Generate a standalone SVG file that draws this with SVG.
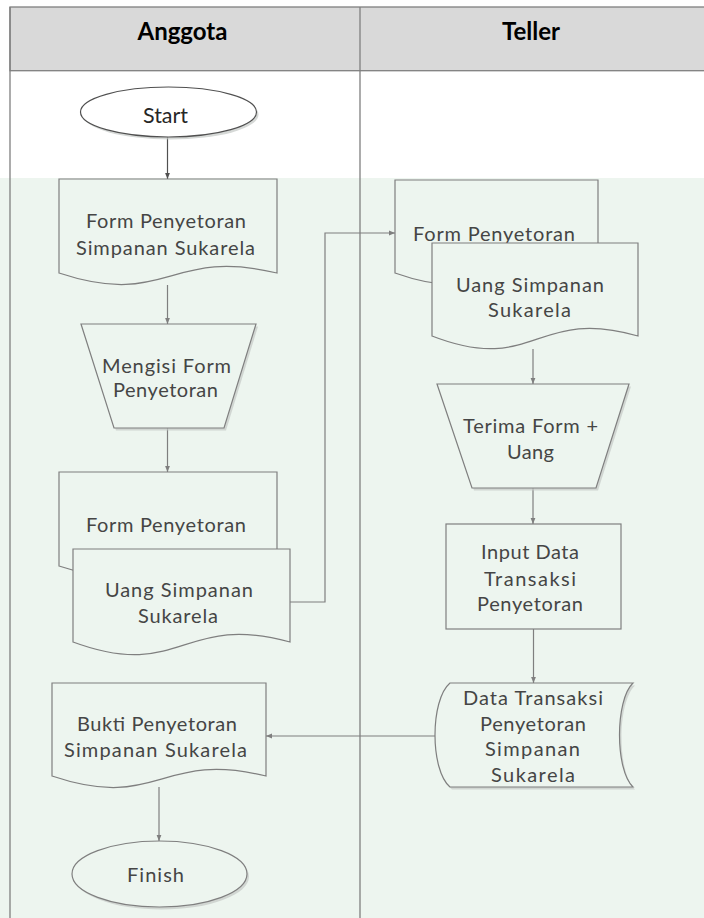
<svg xmlns="http://www.w3.org/2000/svg" width="704" height="918" viewBox="0 0 704 918">
  <style>
    .lane { stroke: #7f7f7f; stroke-width: 1.3; fill: none; }
    .hdr { fill: #d9d9d9; stroke: #7f7f7f; stroke-width: 1.3; }
    .hdrtxt { font-family: Lato, "Liberation Sans", sans-serif; font-weight: bold; font-size: 24px; fill: #000; text-anchor: middle; }
    .shape { fill: #edf5ef; stroke: #7f7f7f; stroke-width: 1.2; }
    .term { fill: #ffffff; stroke: #505050; stroke-width: 1.2; }
    .shadow { fill: #c4c9c6; stroke: none; opacity: 0.7; }
    .txt { font-family: Lato, "Liberation Sans", sans-serif; font-size: 20px; fill: #454545; text-anchor: middle; }
    .conn { fill: none; stroke: #7f7f7f; stroke-width: 1.2; }
    .connD { fill: none; stroke: #505050; stroke-width: 1.2; }
  </style>
  <defs>
    <marker id="arr" viewBox="0 0 10 10" refX="10" refY="5" markerWidth="6" markerHeight="6" markerUnits="userSpaceOnUse" orient="auto">
      <path d="M0,1 L10,5 L0,9 Z" fill="#7f7f7f"/>
    </marker>
    <marker id="arrD" viewBox="0 0 10 10" refX="10" refY="5" markerWidth="6" markerHeight="6" markerUnits="userSpaceOnUse" orient="auto">
      <path d="M0,1 L10,5 L0,9 Z" fill="#505050"/>
    </marker>
  </defs>

  <rect x="0" y="0" width="704" height="918" fill="#ffffff"/>
  <rect id="tint" x="0" y="178" width="704" height="740" fill="#edf5ef"/>

  <g id="swimlanes">
    <rect class="hdr" x="10" y="7" width="720" height="63.7"/>
    <line class="lane" x1="10" y1="7" x2="10" y2="918"/>
    <line class="lane" x1="360" y1="7" x2="360" y2="918"/>
    <text class="hdrtxt" x="182.5" y="40">Anggota</text>
    <text class="hdrtxt" x="531" y="40">Teller</text>
  </g>

  <g id="connectors">
    <path class="connD" d="M167.5,137 V179" marker-end="url(#arrD)"/>
    <path class="conn" d="M167.5,285 V324" marker-end="url(#arr)"/>
    <path class="conn" d="M167.5,428 V472" marker-end="url(#arr)"/>
    <path class="conn" d="M290,602 H325 V233 H395" marker-end="url(#arr)"/>
    <path class="conn" d="M533,349 V384" marker-end="url(#arr)"/>
    <path class="conn" d="M533,488 V524" marker-end="url(#arr)"/>
    <path class="conn" d="M533.5,629 V683" marker-end="url(#arr)"/>
    <path class="conn" d="M435,736 H266" marker-end="url(#arr)"/>
    <path class="conn" d="M159,787 V841" marker-end="url(#arr)"/>
  </g>

  <g id="start">
    <ellipse class="shadow" cx="170.5" cy="114.5" rx="88" ry="25"/>
    <ellipse class="term" cx="168.5" cy="112" rx="88" ry="25"/>
    <text class="txt" x="165.5" y="123" textLength="45" lengthAdjust="spacingAndGlyphs" style="fill:#262626;font-size:21px">Start</text>
  </g>

  <g id="doc-form-anggota">
    <path class="shape" d="M59,179 H277 V273 C168,247 168,309 59,273 Z"/>
    <text class="txt" x="166" y="228" textLength="160" lengthAdjust="spacing">Form Penyetoran</text>
    <text class="txt" x="165.5" y="255" textLength="179" lengthAdjust="spacing">Simpanan Sukarela</text>
  </g>

  <g id="mengisi-form">
    <path class="shadow" d="M83,326.5 H258 L226,430.5 H116 Z"/>
    <path class="shape" d="M81,324 H256 L224,428 H114 Z"/>
    <text class="txt" x="166.5" y="373" textLength="129" lengthAdjust="spacing">Mengisi Form</text>
    <text class="txt" x="165.5" y="397" textLength="105" lengthAdjust="spacing">Penyetoran</text>
  </g>

  <g id="doc-form-penyetoran-anggota">
    <path class="shape" d="M59,472 H277 V566 C168,540 168,602 59,566 Z"/>
    <text class="txt" x="166" y="532" textLength="160" lengthAdjust="spacing">Form Penyetoran</text>
  </g>

  <g id="doc-uang-anggota">
    <path class="shape" d="M73,549 H290 V642 C181.5,612 181.5,682 73,642 Z"/>
    <text class="txt" x="179" y="597" textLength="148" lengthAdjust="spacing">Uang Simpanan</text>
    <text class="txt" x="178" y="623" textLength="80" lengthAdjust="spacing">Sukarela</text>
  </g>

  <g id="doc-form-penyetoran-teller">
    <path class="shape" d="M395,180 H598 V273 C496.5,247 496.5,309 395,273 Z"/>
    <text class="txt" x="494" y="241" textLength="162" lengthAdjust="spacing">Form Penyetoran</text>
  </g>

  <g id="doc-uang-teller">
    <path class="shape" d="M432,243 H638 V336 C535,306 535,376 432,336 Z"/>
    <text class="txt" x="530" y="292" textLength="148" lengthAdjust="spacing">Uang Simpanan</text>
    <text class="txt" x="529.5" y="317" textLength="83" lengthAdjust="spacing">Sukarela</text>
  </g>

  <g id="terima-form">
    <path class="shadow" d="M439,386.5 H631 L598,490.5 H474 Z"/>
    <path class="shape" d="M437,384 H629 L596,488 H472 Z"/>
    <text class="txt" x="530.5" y="433" textLength="135" lengthAdjust="spacing">Terima Form +</text>
    <text class="txt" x="530.5" y="459" textLength="47" lengthAdjust="spacing">Uang</text>
  </g>

  <g id="input-data">
    <rect class="shape" x="446" y="524" width="175" height="105"/>
    <text class="txt" x="530" y="559" textLength="98" lengthAdjust="spacing">Input Data</text>
    <text class="txt" x="530" y="586" textLength="92" lengthAdjust="spacing">Transaksi</text>
    <text class="txt" x="530" y="611" textLength="106" lengthAdjust="spacing">Penyetoran</text>
  </g>

  <g id="data-transaksi">
    <path class="shadow" d="M452,685.5 H635 C617,702.5 617,772.5 635,789.5 H452 C432,772.5 432,702.5 452,685.5 Z"/>
    <path class="shape" d="M450,683 H633 C615,700 615,770 633,787 H450 C430,770 430,700 450,683 Z"/>
    <text class="txt" x="533" y="705" textLength="140" lengthAdjust="spacing">Data Transaksi</text>
    <text class="txt" x="533" y="731" textLength="106" lengthAdjust="spacing">Penyetoran</text>
    <text class="txt" x="532.5" y="756" textLength="95" lengthAdjust="spacing">Simpanan</text>
    <text class="txt" x="533" y="782" textLength="84" lengthAdjust="spacing">Sukarela</text>
  </g>

  <g id="doc-bukti">
    <path class="shape" d="M52,683 H266 V776 C159,750 159,812 52,776 Z"/>
    <text class="txt" x="157" y="731" textLength="160" lengthAdjust="spacing">Bukti Penyetoran</text>
    <text class="txt" x="155.5" y="757" textLength="183" lengthAdjust="spacing">Simpanan Sukarela</text>
  </g>

  <g id="finish">
    <ellipse class="shadow" cx="161.5" cy="876.5" rx="87.5" ry="33"/>
    <ellipse class="shape" cx="159.5" cy="874" rx="87.5" ry="33"/>
    <text class="txt" x="155.5" y="882" textLength="57" lengthAdjust="spacing">Finish</text>
  </g>
</svg>
